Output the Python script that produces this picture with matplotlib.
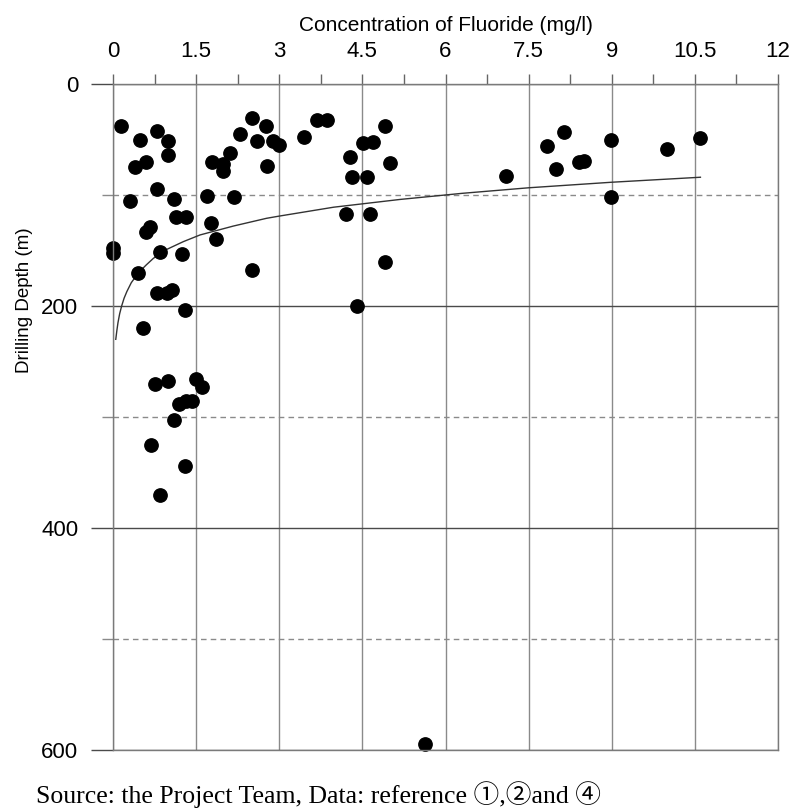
import matplotlib
matplotlib.use("Agg")
import matplotlib.pyplot as plt

plt.rcParams['font.family'] = ['Liberation Sans', 'DejaVu Sans']

# fluoride concentration (mg/l) and drilling depth (m) of each well
fluoride = [0.14, 0.49, 0.79, 0.99, 0.99, 0.60, 0.40, 0.79, 0.30, 1.10,
            1.14, 1.32, 0.59, 0.66, 1.69, 2.19, 1.79, 1.99, 1.99, 2.12,
            2.30, 2.50, 2.60, 2.76, 2.78, 1.77, 2.89, 3.00, 3.45, 3.68,
            3.86, 4.27, 4.31, 4.59, 4.52, 4.70, 4.90, 5.00, 4.20, 4.64,
            7.09, 7.84, 8.13, 7.99, 8.40, 8.50, 8.99, 8.99, 10.0, 10.6,
            0.0, 0.0, 0.85, 1.25, 1.86, 0.46, 2.50, 0.79, 0.97, 1.06,
            1.30, 0.55, 0.75, 0.99, 1.49, 1.60, 1.19, 1.31, 1.42, 1.10,
            0.68, 1.30, 0.84, 5.63, 4.90, 4.40]
depth = [38, 50, 42, 51, 64, 70, 75, 95, 105, 104,
         120, 120, 133, 129, 101, 102, 70, 72, 78, 62,
         45, 31, 51, 38, 74, 125, 51, 55, 48, 32,
         32, 66, 84, 84, 53, 52, 38, 71, 117, 117,
         83, 56, 43, 77, 70, 69, 50, 102, 59, 49,
         148, 152, 151, 153, 140, 170, 168, 188, 188, 186,
         204, 220, 270, 268, 266, 273, 288, 286, 286, 303,
         325, 344, 370, 595, 160, 200]

# trend curve, points
trend_fluoride = [0.05, 0.07, 0.09, 0.12, 0.156, 0.2, 0.25, 0.33, 0.46, 0.6, 0.73, 0.97,
                  1.27, 1.57, 2.17, 2.77, 3.0, 3.98, 5.18, 6.3, 7.5, 9.0, 10.6]
trend_depth = [230, 222, 215, 207, 200, 193, 187, 179, 170, 163, 157, 149,
               142, 136, 128, 121, 119, 111, 104, 98.5, 93.5, 88.5, 84]

x_ticks = [0, 1.5, 3, 4.5, 6, 7.5, 9, 10.5, 12]
x_tick_labels = ['0', '1.5', '3', '4.5', '6', '7.5', '9', '10.5', '12']
x_minor = [0.75, 2.25, 3.75, 5.25, 6.75, 8.25, 9.75, 11.25]
y_ticks = [0, 200, 400, 600]
y_minor = [100, 300, 500]

fig = plt.figure(figsize=(7.95, 8.09), dpi=100)
ax = fig.add_axes([113 / 795, 1 - 750 / 809, 665 / 795, 666 / 809])

ax.set_xlim(0, 12)
ax.set_ylim(600, 0)

# grid: solid verticals, solid 200/400, dashed 100/300/500
ax.set_xticks(x_ticks)
ax.set_xticklabels(x_tick_labels)
ax.set_xticks(x_minor, minor=True)
ax.set_yticks(y_ticks)
ax.set_yticks(y_minor, minor=True)
ax.grid(which='major', axis='x', color='#8a8a8a', linewidth=1)
ax.grid(which='major', axis='y', color='#4a4a4a', linewidth=1)
ax.grid(which='minor', axis='y', color='#8a8a8a', linewidth=1, linestyle=(0, (4, 3)))
ax.set_axisbelow(True)

ax.plot(trend_fluoride, trend_depth, color='#333333', linewidth=1)
ax.plot(fluoride, depth, 'o', color='black', markersize=9.6, clip_on=False)

ax.xaxis.tick_top()
ax.xaxis.set_label_position('top')
ax.tick_params(axis='x', which='both', direction='out', length=7, width=1,
               color='#666666', labelsize=16, pad=8.5)
ax.tick_params(axis='y', which='major', direction='out', length=16, width=1,
               color='#4a4a4a', labelsize=16, pad=9)
ax.tick_params(axis='y', which='minor', direction='out', length=8, width=1,
               color='#8a8a8a')

for side in ['top', 'bottom', 'left', 'right']:
    ax.spines[side].set_color('#7a7a7a')
    ax.spines[side].set_linewidth(1)

ax.set_xlabel('Concentration of Fluoride (mg/l)', fontsize=15, labelpad=7.5)
ax.set_ylabel('Drilling Depth (m)', fontsize=13.5)
ax.yaxis.set_label_coords(-0.121, 0.676)

fig.text(36 / 795, 1 - 803 / 809, 'Source: the Project Team, Data: reference \u2460,\u2461and \u2463',
         family=['Liberation Serif', 'Noto Sans CJK SC'], fontsize=18.5, va='baseline')

fig.savefig('out.png', dpi=100)
